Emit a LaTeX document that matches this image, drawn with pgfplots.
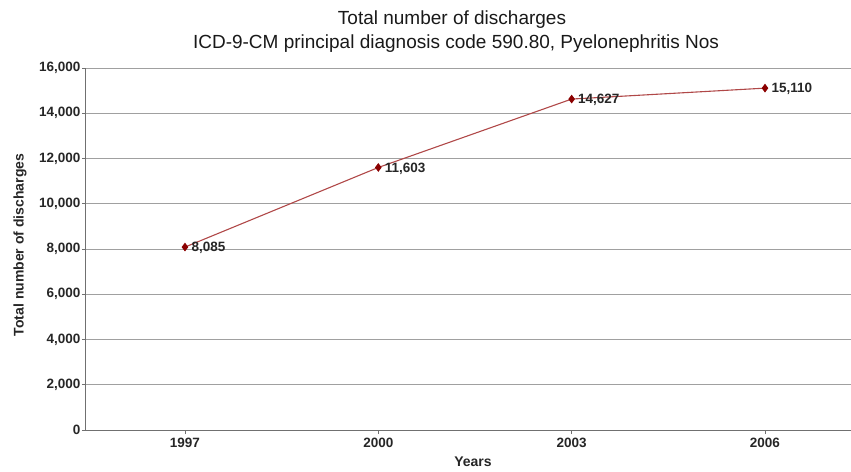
\documentclass[border=0pt]{standalone}
\usepackage{pgfplots}
\pgfplotsset{compat=1.18}
\usepackage{fontspec}
\setmainfont{Liberation Sans}
\definecolor{linered}{HTML}{B04848}
\definecolor{markred}{HTML}{8B0000}
\definecolor{gridgray}{HTML}{A0A0A0}
\definecolor{axisgray}{HTML}{707070}
\begin{document}
\begin{tikzpicture}[x=1pt,y=1pt]
% overall canvas, plot area lower-left corner at the origin
\path[use as bounding box] (-86,-41) rectangle (765,430);
\begin{axis}[
  at={(0,0)}, anchor=south west,
  scale only axis, width=765pt, height=362pt,
  xmin=-0.512, xmax=3.445, ymin=0, ymax=16000,
  xtick={0,1,2,3}, xticklabels={1997,2000,2003,2006},
  ytick={0,2000,...,16000},
  axis x line*=bottom, axis y line*=left,
  axis line style={-, draw=axisgray, line width=1pt},
  ymajorgrids, grid style={draw=gridgray, line width=0.9pt},
  tick align=outside, major tick length=4pt,
  tick style={draw=axisgray, line width=0.8pt},
  scaled y ticks=false,
  /pgf/number format/.cd, fixed, 1000 sep={,}, assume math mode=true,
  /pgfplots/.cd,
  ticklabel style={font=\bfseries\fontsize{13.5}{16}\selectfont, text=black!85},
  yticklabel style={xshift=2pt},
  xticklabel style={yshift=-1pt},
  clip=false,
]
\addplot[color=linered, line width=1.1pt, mark=diamond*,
  mark size=3.5pt, mark options={fill=markred, draw=markred},
  point meta=y,
  nodes near coords={\pgfmathprintnumber[fixed,1000 sep={,},assume math mode=true]{\pgfplotspointmeta}},
  every node near coord/.append style={anchor=west, xshift=5pt, yshift=-1pt,
    font=\bfseries\fontsize{13.5}{16}\selectfont, text=black!85, inner sep=1pt}]
  coordinates {(0,8085) (1,11603) (2,14627) (3,15110)};
\end{axis}
% titles and axis labels
\node[font=\fontsize{19}{22}\selectfont, text=black!90] at (366,410) {Total number of discharges};
\node[font=\fontsize{19}{22}\selectfont, text=black!90] at (370,386) {ICD-9-CM principal diagnosis code 590.80, Pyelonephritis Nos};
\node[font=\bfseries\fontsize{14}{16}\selectfont, text=black!85, rotate=90] at (-66,185) {Total number of discharges};
\node[font=\bfseries\fontsize{14}{16}\selectfont, text=black!85] at (387,-32) {Years};
\end{tikzpicture}
\end{document}
